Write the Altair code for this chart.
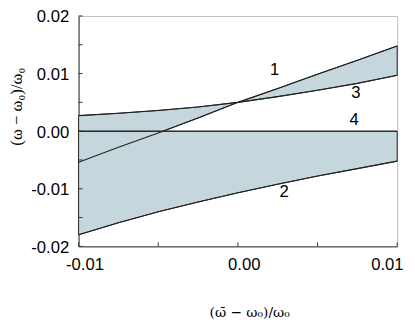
import altair as alt
import pandas as pd

# values
xs = [-0.01, -0.0075, -0.005, -0.0025, 0.0, 0.0025, 0.005, 0.0075, 0.01]
line1 = [-0.0054, -0.0028, -0.0003, 0.0023, 0.005, 0.0074, 0.0099, 0.0123, 0.0148]
line2 = [-0.0180, -0.0159, -0.0140, -0.0123, -0.0107, -0.0092, -0.0078, -0.0065, -0.0052]
line3 = [0.0027, 0.0031, 0.0036, 0.0042, 0.0050, 0.0060, 0.0071, 0.0083, 0.0097]
line4 = [0.0, 0.0, 0.0, 0.0, 0.0, 0.0, 0.0, 0.0, 0.0]

label_text = ["1", "2", "3", "4"]
label_x = [0.0023, 0.0029, 0.0074, 0.0073]
label_y = [0.0106, -0.0106, 0.0066, 0.0020]

x_ticks = [-0.01, -0.005, 0.0, 0.005, 0.01]
y_ticks = [-0.02, -0.015, -0.01, -0.005, 0.0, 0.005, 0.01, 0.015, 0.02]

FILL = "#c6d6dd"
SANS = "Liberation Sans"
SERIF = "Liberation Serif"
W, H = 325, 235

rows = []
for name, ys in [("1", line1), ("2", line2), ("3", line3), ("4", line4)]:
    for x, y in zip(xs, ys):
        rows.append({"series": name, "x": x, "y": y})
lines_df = pd.DataFrame(rows)

lower_df = pd.DataFrame({"x": xs, "y": line4, "y2": line2})

up = []
for i, (x, a, c) in enumerate(zip(xs, line1, line3)):
    if i > 0 and line1[i - 1] < 0 <= a:
        xc = xs[i - 1] + (0 - line1[i - 1]) / (a - line1[i - 1]) * (x - xs[i - 1])
        cc = line3[i - 1] + (xc - xs[i - 1]) / (x - xs[i - 1]) * (c - line3[i - 1])
        up.append({"x": xc, "y": cc, "y2": 0.0})
    up.append({"x": x, "y": c, "y2": max(a, 0.0)})
upper_df = pd.DataFrame(up)

labels_df = pd.DataFrame({"t": label_text, "x": label_x, "y": label_y})
xt_df = pd.DataFrame({"x": x_ticks})
yt_df = pd.DataFrame({"y": y_ticks})

xscale = alt.Scale(domain=[-0.01, 0.01], nice=False, zero=False)
yscale = alt.Scale(domain=[-0.02, 0.02], nice=False, zero=False)

lab_expr = ("(abs(round(datum.value*200)) % 2 != 0) ? '' : "
            "((datum.value < -0.000001 ? '-' : '') + format(abs(datum.value), '.2f'))")

xaxis = alt.Axis(
    values=x_ticks,
    labelExpr=lab_expr,
    title="(ω̄ − ω₀)/ω₀",
    titleFont="DejaVu Serif", titleFontSize=14, titleFontWeight="normal", titleColor="black",
    titleX=174, titleY=72, titleBaseline="alphabetic", titleAnchor="middle",
    labelFont=SANS, labelFontSize=17, labelColor="black", labelPadding=11,
    labelFlush=False, labelOffset=6,
    labelAlign={"condition": {"test": "datum.value > 0.009", "value": "right"}, "value": "center"},
    ticks=False, grid=False, domainColor="#333333",
)
yaxis = alt.Axis(
    values=y_ticks,
    labelExpr=lab_expr,
    title="(ω − ω₀)/ω₀",
    titleFont=SERIF, titleFontSize=17, titleFontWeight="normal", titleColor="black",
    titleX=-63, titleY=92, titleBaseline="middle", titleAnchor="middle",
    labelFont=SANS, labelFontSize=17, labelColor="black", labelPadding=10,
    labelFlush=False, labelOffset=1, ticks=False,
    grid=False, domainColor="#333333",
)

lower = alt.Chart(lower_df).mark_area(
    color=FILL, stroke="#222222", strokeWidth=1
).encode(
    x=alt.X("x:Q", scale=xscale, axis=xaxis),
    y=alt.Y("y:Q", scale=yscale, axis=yaxis),
    y2="y2:Q",
)
upper = alt.Chart(upper_df).mark_area(
    color=FILL, stroke="#222222", strokeWidth=1
).encode(x="x:Q", y="y:Q", y2="y2:Q")

lines = alt.Chart(lines_df).mark_line(color="#222222", strokeWidth=1.1).encode(
    x="x:Q", y="y:Q", detail="series:N"
)

xticks = alt.Chart(xt_df).mark_rule(color="#333333", strokeWidth=1).encode(
    x="x:Q", y=alt.value(H), y2=alt.value(H - 4)
)
yticks = alt.Chart(yt_df).mark_rule(color="#333333", strokeWidth=1).encode(
    y="y:Q", x=alt.value(0), x2=alt.value(4)
)

texts = alt.Chart(labels_df).mark_text(
    font=SANS, fontSize=17, color="black", align="center", baseline="middle"
).encode(x="x:Q", y="y:Q", text="t:N")

chart = alt.layer(lower, upper, lines, xticks, yticks, texts).properties(
    width=W, height=H,
    autosize=alt.AutoSizeParams(type="none"),
    padding={"left": 72, "top": 5, "right": 10, "bottom": 73},
).configure_view(stroke="#bbbbbb", strokeWidth=1)

chart.save("out.html", embed_options={"renderer": "svg", "actions": False})
